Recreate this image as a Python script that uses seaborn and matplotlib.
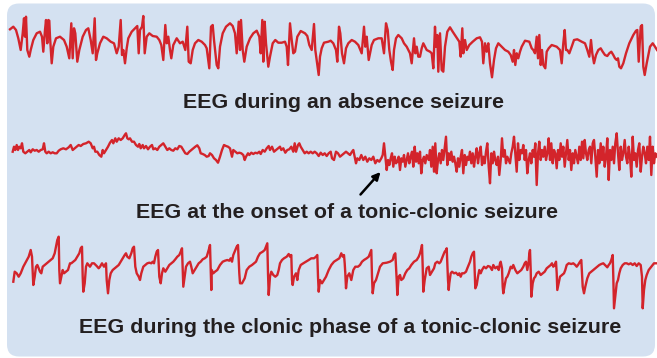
import matplotlib
matplotlib.use("Agg")
import matplotlib.pyplot as plt
from matplotlib.patches import FancyBboxPatch
import seaborn as sns
import numpy as np

# ---------------- data (display units) -------------
# Trace 1: EEG during an absence seizure
absence_t = [10,13.3,16,18.3,20.7,22.7,24,25,26,27.3,
             29.3,30.7,33.3,36.7,40,42,43.3,45,46,47.3,
             48.3,49.3,50,51.7,53.3,56,60,64,66.7,69.3,
             71.3,72.7,74,75.3,77.3,79.3,82.7,86,88.3,90.7,
             92.7,94.7,96,97.3,100,103.3,106.7,110.7,114,116.7,
             118.7,120.7,122,123.3,125,126.7,128.3,131.7,135,137.3,
             138.7,140,142,143.3,144.7,146.7,149.3,152.7,156.7,159.3,
             161.3,163.3,165.3,166.7,168.3,170,171.3,173.3,176.7,180,
             182.7,185.3,187.3,188.7,190.7,192.7,195,198.3,201.7,205,
             206.7,
             209.3,211,212.7,214,216.7,218.3,220,
             222.7,226,230,232.7,235,236.7,238.7,240,241,242.7,
             244.3,246.7,250,253.3,256.7,259.3,260.7,262.3,263.3,264.7,
             266,268.3,270,272.7,275.3,278.3,281.7,285,286.7,288,
             290,291.7,293.3,295,297.3,300.7,305,307.3,309.3,311.7,
             314,315.3,316.7,318.7,320,321.7,324,328.3,330.7,333.3,
             336,337.3,339,340.3,342,344,346,348.3,351.7,355,
             358.3,361.7,364,365.3,366.7,368.7,371.7,374,378.3,381.7,
             384,386,387.7,389.3,391,392.7,394,396,398.3,401.7,
             404,406.7,410,411.7,414,415.3,416.7,418.3,420,421.7,
             423.3,426.7,
             430,431.7,433.3,435,436,437.3,438.3,440,441.7,443.3,
             445,447.3,450,452.7,456,459.3,460.7,462.3,463.3,465,
             466.7,469.3,472.7,476.7,480,482,483.3,485,486.7,488.3,
             490,492,494,496,498.3,501.7,505,508.3,510.7,512.7,
             514,515.3,516.7,518.3,520,521.7,525,529.3,531.7,533.3,
             535,536.7,538,539.3,540.7,542,543.3,545.3,546.7,548.7,
             551.7,556.7,560,561.7,563.3,564.7,566,567.3,569.3,571.7,
             574,577.3,581.7,585,587.3,589.3,591,592.3,594,596,
             598.3,600.7,602.7,605,607.3,609.3,611.3,613.3,615,616.7,
             618,619.3,621,623.3,626,629.3,633.3,636,637.3,638.7,
             640.7,642,643.3,644.7,646.7,650,652.7,655,657]
absence_v = [29.3,26.7,30,38.3,50,33.3,18.3,36.7,16.7,50,
             56.7,50,40,33.3,31.7,36.7,51.7,30,20,43.3,
             20,20.7,36.7,63.3,46.7,38.3,36.7,40,46.7,58.3,
             23.3,58.3,28.3,33.3,61.7,50,36.7,30,28.3,40,
             53.3,18.3,60,53.3,43.3,36.7,38.3,41.7,43.3,53.3,
             46.7,20,55,50,63.3,48.3,38.3,31.7,28.3,26,
             53.3,30,26.7,16,53.3,36.7,33.3,36,36.7,40,
             45,60,25,43.3,36.7,50,58.3,45,38.3,43.3,
             41.7,50,26.7,61.7,63.3,50,43.3,40,41.7,45,
             48.3,
             68.3,26.7,25,40,65,68.3,46.7,
             33.3,26.7,23.3,26,33.3,53.3,21.7,50,20,50,
             61.7,46.7,38.3,33.3,30.7,36.7,53.3,20,61.7,21.7,
             43.3,66.7,56.7,43.3,40,42.7,42.7,41.7,46.7,65,
             23.3,40,53.3,51.7,36.7,31,33.3,36,45,50,
             24,50,60,75,56.7,48.3,42.7,41.7,40.7,43.3,
             50,61.7,26.7,33.3,53.3,63.3,48.3,43.3,40,41.7,
             45,53.3,26.7,46.7,36.7,60,45,40,38.3,38.3,
             53.3,23.3,30,50,61.7,70,50,38.3,35,38.3,
             43.3,46.7,53.3,63.3,38.3,53.3,46.7,56.7,56.7,48.3,
             43.3,50,
             51.7,53.3,68.3,26.7,46.7,35,71.7,33.3,70,71.7,
             46.7,31.7,27.3,31.7,36.7,41.7,56.7,28.3,53.3,40,
             50,45,41.7,38.3,37.3,41.7,63.3,43.3,51.7,43.3,
             63.3,77.3,60,48.3,43.3,46.7,50,51.7,55,61.7,
             50,65,53.3,58.3,51.7,46.7,40.7,41.7,48.3,50,
             53.3,36.7,58.3,35,65,50,65,68.3,51.7,48.3,
             45,46.7,50,63.3,43.3,30,50,50,53.3,46.7,
             40,39.3,41.7,43.3,50,56.7,40,53.3,63.3,55,
             50,48.3,51.7,55,56,53.3,51.7,55,58.3,60,
             58.3,66.7,68.3,63.3,53.3,43.3,35,30.7,30,61.7,
             26.7,25,66.7,75,63.3,46.7,43.3,46.7,50]

# Trace 2: EEG at the onset of a tonic-clonic seizure
tonic_t = [12.7,14,15.3,16.7,18,19.3,20.7,22,23.3,25.3,
           27.3,29.3,30.7,32.7,34.7,36.7,38.7,40.7,42.7,44,
           45.3,46.7,48.7,50.7,52.7,54.7,56.7,58.7,60.7,63.3,
           66,68.7,70.7,72.7,74.7,76.7,78.7,80.7,83.3,86,
           88.7,90.7,92.7,94,95.3,97.3,99.3,101.3,102.7,104,
           106,108,110,112,113.3,115.3,116.7,118.7,120.7,122.7,
           124.7,126,127.3,128.7,130,132,134,136,138,139.3,
           140.7,142.7,144,146,148,150,152,153.3,155.3,157.3,
           159.3,161.3,163.3,165.3,167.3,169.3,171.3,173.3,175.3,177.3,
           179.3,181.3,183.3,185.3,187.3,189.3,191.3,193.3,195.3,197.3,
           199.3,200.7,202.7,204.7,206.7,208.7,
           210,212,214,216,218,220,222,224,226,228,
           230,232,233.3,235.3,237.3,239.3,241.3,243.3,244.7,246,
           248,249.3,251.3,253.3,255.3,257.3,259.3,260.7,262.7,264.7,
           266.7,268.7,270,272,274,276,278,280,281.3,283.3,
           285.3,287.3,289.3,291.3,293.3,294.7,296,298,299.3,300.7,
           302.7,304.7,306.7,308.7,310.7,312.7,314.7,316.7,318.7,320.7,
           322.7,324.7,326.7,328.7,330.7,332,334,336,338,340,
           342,344,346,348,350,352,353.3,354.7,356,357.3,
           359.3,361.3,363.3,365.3,367.3,369.3,371.3,373.3,375.3,377.3,
           379.3,381.3,382.7,384,385.3,386.7,388,389.3,390.7,392,
           393.3,394.7,396,397.3,398.7,400,401.3,402.7,404,405.3,
           406.7,408,409.3,410.7,412,413.3,414.7,416,417.3,418.7,
           420,421.3,422.7,424,425.3,426.7,428.7,
           430,431.3,432.7,434,435.3,436.7,438,439.3,440.7,442,
           443.3,444.7,446,447.3,448.7,450,451.3,452.7,454,455.3,
           456.7,458,459.3,460.7,462,463.3,464.7,466,467.3,468.7,
           470,471.3,472.7,474,475.3,476.7,478,479.3,480.7,482,
           483.3,484.7,486,487.3,488.7,490,491.3,492.7,494,495.3,
           496.7,498,499.3,500.7,502,503.3,504.7,506,507.3,508.7,
           510,511.3,512.7,514,515.3,516.7,518,519.3,520.7,522,
           523.3,524.7,526,527.3,528.7,530,531.3,532.7,534,535.3,
           536.7,538,539.3,540.7,542,543.3,544.7,546,547.3,548.7,
           550,551.3,552.7,554,555.3,556.7,558,559.3,560.7,562,
           563.3,564.7,566,567.3,568.7,570,571.3,572.7,574,575.3,
           576.7,578,579.3,580.7,582,583.3,584.7,586,587.3,588.7,
           590,591.3,592.7,594,595.3,596.7,598,599.3,600.7,602,
           603.3,604.7,606,607.3,608.7,610,611.3,612.7,614,615.3,
           616.7,618,619.3,620.7,622,623.3,624.7,626,627.3,628.7,
           630,631.3,632.7,634,635.3,636.7,638,639.3,640.7,642,
           643.3,644.7,646,647.3,648.7,650,651.3,652.7,654,655.3,
           657]
tonic_v = [151.7,146.7,150,145,150,146.7,148.3,143.3,151.7,153.3,
           151.7,150,152.3,149.3,150.7,150,151.7,150,149.3,143.3,
           151.7,153.3,151.7,153.3,152.3,153.3,153.3,150.7,149.3,148.3,
           149.3,147.3,145,150,148.3,146.7,145,146,144,143.3,
           141.7,143.3,148.3,146.7,151.7,151.7,155,156.7,150,153.3,
           150,146.7,142.7,140,143.3,138.3,141.7,138.3,140,138.3,
           135,133.3,138.3,139.3,138.3,141.7,141.7,145,146.7,144,
           148.3,145,148.3,146,149.3,146.7,145,149.3,148.3,150,
           146.7,145,143.3,146.7,150,148.3,150,150.7,148.3,149.3,
           146,146.7,150,153.3,154,151.7,150,148.3,146.7,145.3,
           148.3,153.3,154,155,156.7,156,
           153.3,155,158.3,160,162.7,156.7,150,145,146,146.7,
           148.3,156.7,150,151.7,153.3,152.7,153.3,155,160,156.7,
           153.3,155,152.7,154,152.7,153.3,151.7,154,150,151.7,
           148.3,146,150,146.7,151.7,150,148.3,146.7,150,148.3,
           152.7,150,149.3,146.7,151.7,143.3,151.7,145,143.3,146.7,
           150,153.3,151.7,153.3,151.7,153.3,151.7,153.3,156,152.7,
           155,153.3,156,153.3,151.7,158.3,160,151.7,153.3,156.7,
           155,153.3,151.7,153.3,155,151.7,150,156.7,163.3,158.3,
           160,155,160,156.7,161.7,158.3,160,156.7,163.3,160,
           161.7,158.3,155,143.3,156.7,170,160,165,158.3,153.3,
           166.7,156.7,163.3,161.7,156.7,170,158.3,161.7,155,166.7,
           160,153.3,163.3,156.7,151.7,166.7,146.7,161.7,153.3,163.3,
           151.7,173.3,160,156.7,163.3,155,160,
           150,166.7,146.7,171.7,143.3,173.3,160,153.3,163.3,150,
           160,148.3,136.7,165,153.3,160,151.7,161.7,156.7,163.3,
           171.7,158.3,166.7,156.7,150,173.3,155,165,156.7,160,
           151.7,163.3,153.3,166.7,156.7,148.3,163.3,153.3,146.7,165,
           156.7,163.3,151.7,143.3,166.7,183.3,153.3,163.3,151.7,160,
           165,156.7,175,160,138.3,156.7,150,163.3,156.7,160,
           163.3,153.3,146.7,136.7,153.3,171.7,143.3,160,150,153.3,
           145,160,150,173.3,160,153.3,163.3,150,156.7,143.3,
           185,153.3,141.7,160,150,156.7,146.7,160,153.3,138.3,
           160,143.3,163.3,150,153.3,168.3,150,160,143.3,156.7,
           146.7,166.7,153.3,140,160,150,170,153.3,163.3,150,
           156.7,163.3,146.7,160,141.7,158.3,140,153.3,160,150,
           146.7,163.3,143.3,140,156.7,176.7,150,163.3,143.3,160,
           146.7,166.7,156.7,138.3,180,150,160,146.7,163.3,143.3,
           133.3,153.3,170,146.7,160,153.3,140,156.7,163.3,146.7,
           156.7,176.7,136.7,160,153.3,166.7,150,143.3,171.7,156.7,
           146.7,153.3,163.3,146.7,160,136.7,175,146.7,163.3,153.3,
           156.7]

# Trace 3: EEG during the clonic phase of a tonic-clonic seizure
clonic_t = [13.3,14.7,16.7,18.7,20.7,23.3,26,28.7,30.7,32,
            32.7,33.3,34.7,36,37.3,38.7,40,41.3,42.7,44.7,
            46.7,48.7,50.7,52.7,54.7,56,57.3,58.7,59.3,60,
            61.3,62.7,64,66,68,70,71.3,73.3,75.3,77.3,
            79.3,80.7,82,82.7,83.3,84.7,86,87.3,90,92,
            94,96.7,98.7,100,102,104,106,106.7,108,109.3,
            110.7,112.7,114.7,116.7,118.7,120.7,122.7,124.7,126,127.3,
            129.3,131.3,132.7,134,135.3,136.7,138.7,140,141.3,143.3,
            145.3,147.3,149.3,151.3,152.7,154,155.3,156.7,158,159.3,
            160.7,162,163.3,165.3,167.3,169.3,171.3,173.3,175.3,177.3,
            179.3,180.7,182,182.7,183.3,184.7,186,188,190,191.3,
            192.7,194.7,196.7,198.7,200.7,202.7,204.7,206.7,208.7,210,
            210.7,211.3,
            211.7,213.3,215,217.3,220,222.7,225,227.3,229.3,230.7,
            232,233.3,235.3,236.7,238,238.7,239.3,240,242,244.7,
            246.7,249.3,252,254,256,258,260,262.7,264.7,266,
            267.3,268,268.7,270,271.3,273.3,275.3,277.3,278.7,280,
            282,284,286.7,288.7,290,291.3,292,292.7,294,296,
            297.3,298.7,300.7,303.3,306,308.7,311.3,314,316,317.3,
            318,318.7,320,322,324,326,328.7,331.3,334,336.7,
            339.3,341.3,342.7,344,344.7,345.3,346,347.3,349.3,351.3,
            353.3,355.3,358,360,362,364,366.7,368.7,370,371.3,
            372,372.7,374,376,378,380,382.7,386.7,390,392.7,
            394,395.3,396.7,397.3,398.7,400,401.3,403.3,405.3,407.3,
            409.3,411.3,414,416.7,418.7,420,421.3,422,422.7,423.3,
            424.7,426.7,428.7,
            430,432,434,435.3,437.3,439.3,440.7,442,443.3,444.7,
            446,446.7,447.3,448,448.7,449.3,450.7,452,454,456,
            458,459.3,460.7,462,464,466,467.3,468.7,470,471.3,
            472.7,474,474.7,475.3,476.7,478,479.3,480.7,482,484,
            486,488,490,492,493.3,495.3,497.3,498.7,500,500.7,
            502,502.7,503.3,504.7,506,507.3,508.7,510.7,512,513.3,
            515.3,517.3,519.3,521.3,523.3,524.7,526,527.3,528.7,529.3,
            530,530.7,531.3,532.7,534,535.3,536.7,538.7,540.7,542.7,
            544.7,546.7,548.7,550.7,552,553.3,554.7,556,556.7,557.3,
            558.7,560,562,564,565.3,566.7,568.7,571.3,573.3,575.3,
            576.7,578,580,581.3,582,582.7,584,585.3,587.3,589.3,
            591.3,593.3,595.3,597.3,599.3,601.3,603.3,606,607.3,608.7,
            610,611.3,612.7,613.3,614,615.3,616.7,618,619.3,620.7,
            622.7,624.7,626.7,628.7,630.7,632.7,634.7,636.7,638.7,640.7,
            642,642.7,644,645.3,646.7,648.7,651.3,654,657]
clonic_v = [281.7,271.7,273.3,276.7,273.3,266.7,261.7,256.7,250,256.7,
            273.3,285,276.7,266.7,265,268.3,271.7,273.3,266.7,265,
            263.3,261.7,260,258.3,253.3,246.7,240,236.7,270,283.3,
            276.7,270,273.3,271.7,270,263.3,263.3,261.7,260,256.7,
            253.3,248.3,246.7,276.7,291.7,283.3,266.7,263.3,266.7,263.3,
            263.3,266,268.3,266.7,263.3,266.7,263.3,280,293.3,280,
            273.3,270,268.3,266.7,265,261.7,258.3,255,253.3,256.7,
            258.3,253.3,248.3,246.7,266.7,273.3,276.7,280,273.3,266.7,
            265,263.3,262.7,263.3,261.7,263.3,256.7,251.7,250,276.7,
            283.3,273.3,268.3,271.7,268.3,265,263.3,261.7,259.3,256.7,
            255,251.7,248.3,270,286.7,276.7,266.7,263.3,261.7,266.7,
            273.3,270,266.7,263.3,261.7,259.3,258.3,256.7,250,245,
            270,290,
            270,273.3,271.7,270,265,261.7,260.7,260,260.7,258.3,
            261.7,255,250,246.7,245,260,273.3,283.3,283.3,278.3,
            270,266.7,265,263.3,261.7,256.7,253.3,251.7,250,246.7,
            243.3,273.3,295,276.7,271.7,275,276.7,275,270,263.3,
            260,258.3,256.7,254,256.7,255,280,285,276.7,273.3,
            280,270,265,263.3,261.7,260,258.3,258.3,256.7,255,
            276.7,291.7,280,283.3,280,276.7,270,265,261.7,260,
            258.3,253.3,256.7,255,263.3,273.3,288.3,276.7,273.3,280,
            270,266.7,266.7,265,261.7,260,258.3,256.7,253.3,250,
            276.7,293.3,283.3,280,273.3,266.7,263.3,262.7,261.7,260,
            255,253.3,280,295,276.7,275,280,278.3,273.3,270,
            268.3,265,261.7,260,256.7,253.3,248.3,245,266.7,291.7,
            280,268.3,266.7,
            275,271.7,268.3,263.3,261.7,263.3,261.7,258.3,255,251.7,
            250,248.3,263.3,280,290,283.3,273.3,271.7,273.3,272.7,
            275,273.3,276.7,273.3,273.3,271.7,268.3,265,261.7,256.7,
            253.3,251.7,270,288.3,285,276.7,270,273.3,270,266.7,
            268.3,266,266.7,270,265,268.3,266.7,270,263.3,261.7,
            268.3,286.7,293.3,285,278.3,276.7,273.3,266.7,268.3,265,
            270,273.3,271.7,270,266.7,263.3,261.7,270,261.7,253.3,
            250,270,296.7,283.3,278.3,276.7,273.3,271.7,275,273.3,
            271.7,268.3,266.7,265,263.3,266.7,265,261.7,273.3,290,
            283.3,276.7,275,273.3,270,265,263.3,264,263.3,265,
            266.7,265,261.7,260,273.3,286.7,293.3,286.7,278.3,273.3,
            271.7,270,268.3,266.7,265,264,263.3,266,267.3,265,
            263.3,260,255,276.7,308.3,296.7,283.3,280,273.3,268.3,
            265,263.3,263.3,264.3,263.3,265,263.3,266,263.3,265,
            276.7,308.3,290,280,275,270,266.7,263.3,263.3]

captions = ["EEG during an absence seizure",
            "EEG at the onset of a tonic-clonic seizure",
            "EEG during the clonic phase of a tonic-clonic seizure"]

# ---------------- styling ----------------
RED = "#d3242b"
PANEL = "#d4e1f1"
TEXT = "#231f20"

plt.rcParams['font.family'] = ['Liberation Sans', 'DejaVu Sans']

fig = plt.figure(figsize=(6.57, 3.58), dpi=100)
fig.patch.set_facecolor("white")
ax = fig.add_axes([0, 0, 1, 1])

panel = FancyBboxPatch((7, 3.5), 648, 353, boxstyle="round,pad=0,rounding_size=12",
                       facecolor=PANEL, edgecolor="none", zorder=0)
ax.add_patch(panel)

for t, v in [(absence_t, absence_v), (tonic_t, tonic_v), (clonic_t, clonic_v)]:
    assert len(t) == len(v), (len(t), len(v))
    sns.lineplot(x=t, y=v, sort=False, estimator=None, color=RED,
                 linewidth=1.7, ax=ax, legend=False, zorder=2)
ax.set_xlim(0, 657)
ax.set_ylim(358, 0)
ax.axis("off")

ax.text(343.5, 107.5, captions[0], ha="center", va="baseline", fontsize=15.4,
        fontweight="bold", color=TEXT)
ax.text(347, 218, captions[1], ha="center", va="baseline", fontsize=15.4,
        fontweight="bold", color=TEXT)
ax.text(350, 333, captions[2], ha="center", va="baseline", fontsize=15.4,
        fontweight="bold", color=TEXT)

ax.annotate("", xy=(380.5, 172), xytext=(360.5, 194.5),
            arrowprops=dict(arrowstyle="-|>", color="black", lw=1.8,
                            mutation_scale=11, shrinkA=0, shrinkB=0))

fig.savefig("out.png", dpi=100)
